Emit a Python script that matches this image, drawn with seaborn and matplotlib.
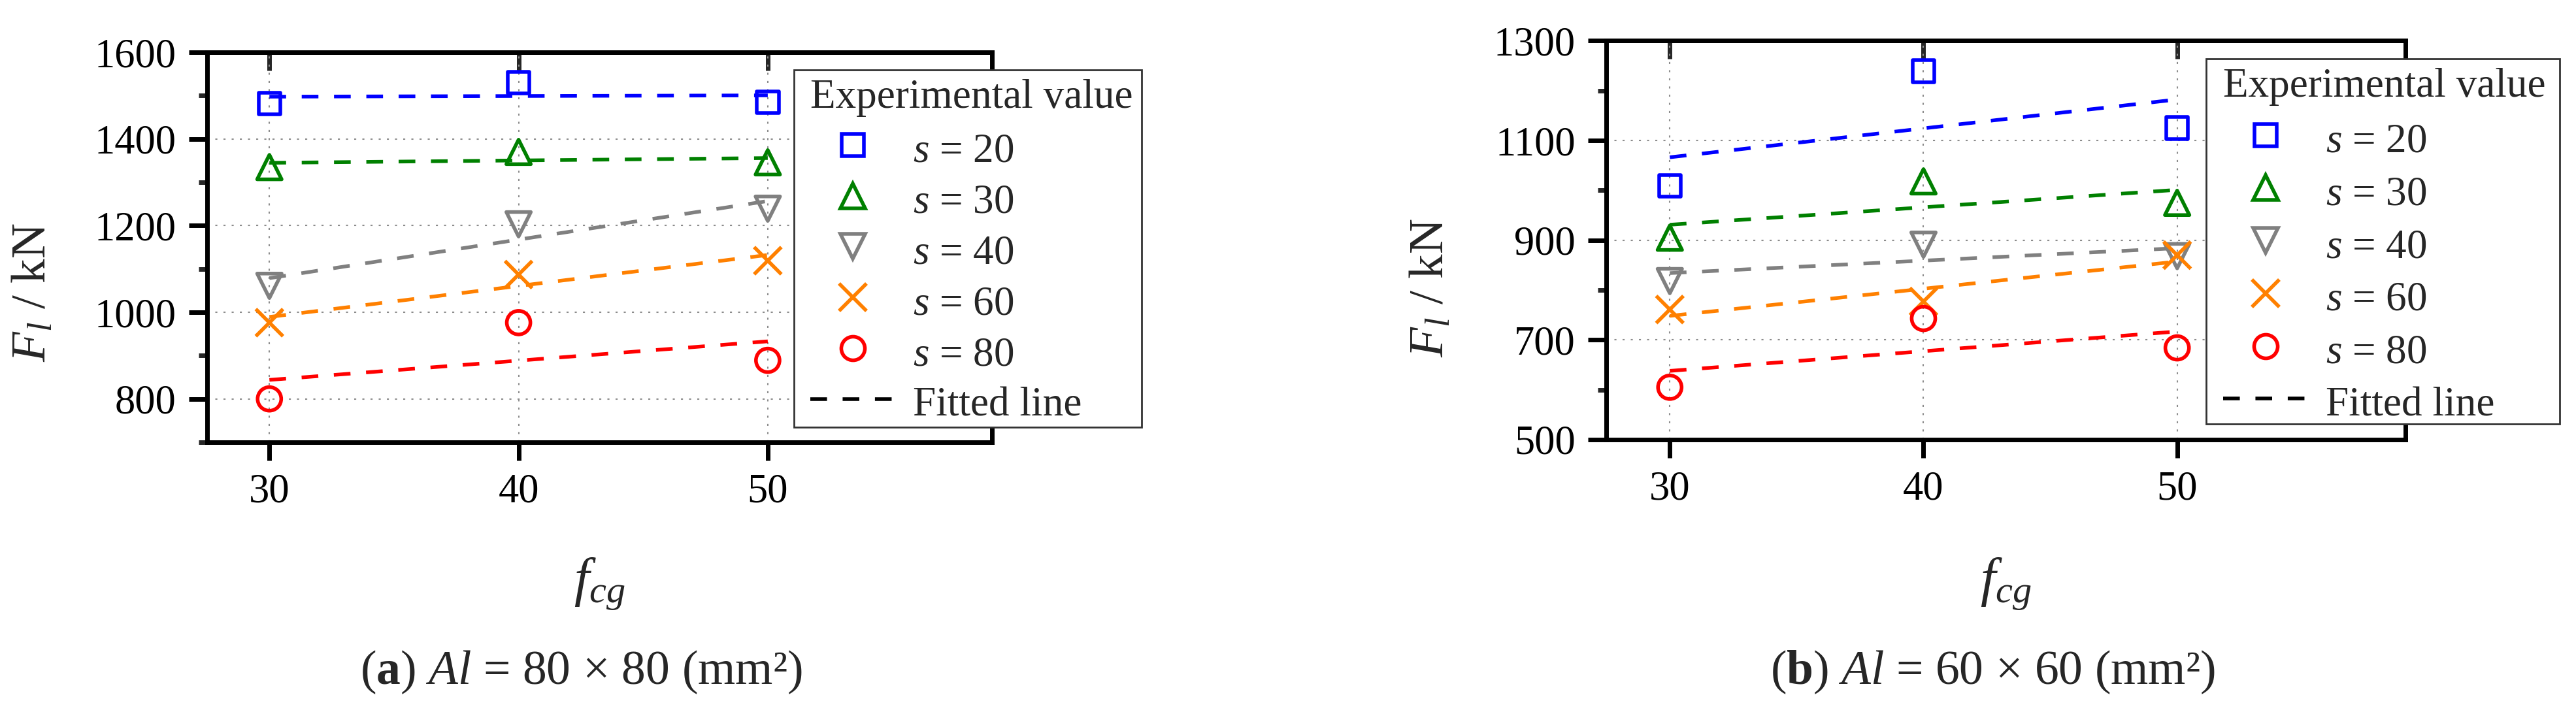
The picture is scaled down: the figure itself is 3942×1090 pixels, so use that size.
import pandas as pd
import seaborn as sns
import matplotlib.pyplot as plt
from matplotlib.lines import Line2D
from matplotlib.patches import Rectangle

sns.set_theme(style="white")
plt.rcParams['font.family'] = ['Liberation Serif', 'DejaVu Serif']
plt.rcParams['mathtext.fontset'] = 'custom'
plt.rcParams['mathtext.rm'] = 'Liberation Serif'
plt.rcParams['mathtext.it'] = 'Liberation Serif:italic'
plt.rcParams['mathtext.bf'] = 'Liberation Serif:bold'

# ---------------- data ----------------
fcg = [30, 40, 50]
s_values = [20, 30, 40, 60, 80]

# (a) Al = 80 x 80
a_s20 = [1482, 1530, 1485]
a_s30 = [1335, 1370, 1346]
a_s40 = [1061, 1203, 1239]
a_s60 = [976, 1087, 1119]
a_s80 = [800, 976, 889]
a_yticks = [800, 1000, 1200, 1400, 1600]
a_yminor = [700, 900, 1100, 1300, 1500]

# (b) Al = 60 x 60
b_s20 = [1009, 1239, 1125]
b_s30 = [905, 1018, 975]
b_s40 = [818, 891, 868]
b_s60 = [761, 777, 870]
b_s80 = [605, 743, 684]
b_yticks = [500, 700, 900, 1100, 1300]
b_yminor = [600, 800, 1000, 1200]

colors = ['#0000ff', '#008000', '#808080', '#ff8000', '#ff0000']
markers = ['s', '^', 'v', 'x', 'o']
msizes = [24, 27, 27, 30, 26]

captions = [r'($\mathbf{a}$) $Al$ = 80 × 80 (mm²)', r'($\mathbf{b}$) $Al$ = 60 × 60 (mm²)']


def to_long(series):
    rows = []
    for s, vals in zip(s_values, series):
        for x, y in zip(fcg, vals):
            rows.append({"s": s, "fcg": x, "Fl": y})
    return pd.DataFrame(rows)


df_a = to_long([a_s20, a_s30, a_s40, a_s60, a_s80])
df_b = to_long([b_s20, b_s30, b_s40, b_s60, b_s80])

fig = plt.figure(figsize=(39.42, 10.9), dpi=100)
ax_a = fig.add_axes([0.0804, 0.3789, 0.3047, 0.5477])
ax_b = fig.add_axes([0.6236, 0.3826, 0.3102, 0.5601])

# axes, data, ylim, ticks, minor ticks, legend anchor, legend frame,
# row spacing, title gap (pt), ylabel pos, caption x, caption
panels = [
    (ax_a, df_a, (700, 1600), a_yticks, a_yminor, (0.3146, 0.8890),
     (0.3082, 0.4000, 0.1350, 0.5018), 0.19, 12.2, (-0.2207, 0.385), 0.2255, captions[0]),
    (ax_b, df_b, (500, 1300), b_yticks, b_yminor, (0.8630, 0.9046),
     (0.8564, 0.4046, 0.1372, 0.5128), 0.237, 13.4, (-0.2183, 0.38), 0.7735, captions[1]),
]

DASH = (4.6, 4.3)
LW = 4.0
MEW = 4.0
LEG_FS = 45.5

for ax, df, ylim, yt, ym, leg_xy, frame, lsp, tgap, ylab_xy, cap_x, cap in panels:
    for s, c, m, ms in zip(s_values, colors, markers, msizes):
        sub = df[df["s"] == s]
        sns.regplot(data=sub, x="fcg", y="Fl", ax=ax, scatter=False, ci=None,
                    truncate=True, line_kws=dict(color=c, lw=LW, dashes=DASH, zorder=3))
        sns.scatterplot(data=sub, x="fcg", y="Fl", ax=ax, marker=m, s=ms ** 2,
                        color=c, linewidth=MEW, zorder=4, legend=False)
        coll = ax.collections[-1]
        coll.set_facecolor('none')
        coll.set_edgecolor(c)
        coll.set_linewidth(MEW)

    ax.set_xlim(27.5, 59)
    ax.set_ylim(*ylim)
    ax.set_xticks(fcg)
    ax.set_yticks(yt)
    ax.set_yticks(ym, minor=True)

    ax.grid(True, which='major', color='#8c8c8c', lw=1.5, linestyle=(0, (1.5, 4.5)))
    ax.set_axisbelow(True)

    for sp in ax.spines.values():
        sp.set_linewidth(5)
        sp.set_color('black')

    ax.tick_params(axis='x', which='major', direction='out', length=20, width=5,
                   top=False, bottom=True, labelsize=45, pad=14, colors='black')
    ax.tick_params(axis='y', which='major', direction='out', length=20, width=5,
                   left=True, right=False, labelsize=45, pad=14, colors='black')
    ax.tick_params(axis='y', which='minor', direction='out', length=9.5, width=5,
                   left=True, right=False)

    top = ax.secondary_xaxis('top')
    top.set_xticks(fcg)
    top.tick_params(direction='in', length=20, width=5, labeltop=False)
    top.spines['top'].set_linewidth(5)

    ax.set_xlabel(r'$f_{cg}$', fontsize=60)
    ax.set_ylabel(r'$F_l$ / kN', fontsize=54)
    ax.xaxis.set_label_coords(0.5, -0.362)
    ax.xaxis.label.set_va('center')
    ax.yaxis.set_label_coords(*ylab_xy)
    ax.yaxis.label.set_va('center')

    # legend box drawn as its own rectangle so it can be placed exactly
    ax.add_patch(Rectangle(frame[:2], frame[2], frame[3], transform=fig.transFigure,
                           facecolor='white', edgecolor='#333333', lw=2,
                           clip_on=False, zorder=4.9))

    handles = [Line2D([], [], ls='none', marker=m, ms=ms, mfc='none', mec=c, mew=MEW)
               for c, m, ms in zip(colors, markers, msizes)]
    handles.append(Line2D([], [], color='black', lw=LW, dashes=DASH))
    labels = [rf'$s$ = {s}' for s in s_values] + ['Fitted line']
    leg = ax.legend(handles, labels, title='Experimental value', loc='upper left',
                    bbox_to_anchor=leg_xy, bbox_transform=fig.transFigure,
                    borderaxespad=0, borderpad=0, fontsize=LEG_FS, title_fontsize=LEG_FS,
                    handlelength=2.06, handleheight=1.1, handletextpad=0.42,
                    labelspacing=lsp, frameon=False, alignment='left')
    # gap between the title and the first entry
    leg._legend_box.sep = tgap
    leg.set_zorder(5)

    fig.text(cap_x, 0.0394, cap, ha='center', va='baseline', fontsize=53)

fig.savefig('out.png', dpi=100)
